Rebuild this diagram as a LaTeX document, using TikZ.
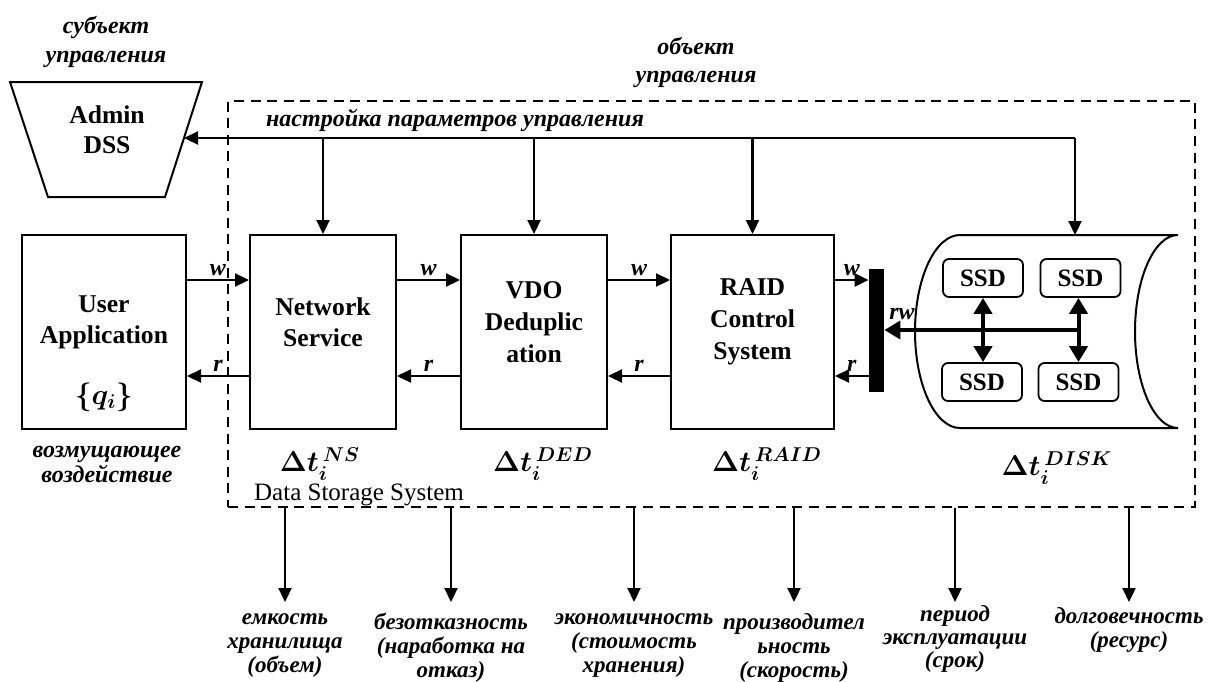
\documentclass[tikz,border=0pt]{standalone}
\usepackage{fontspec}
\setmainfont{Liberation Serif}
\usetikzlibrary{arrows.meta}
\begin{document}
\begin{tikzpicture}[x=0.5pt,y=-0.5pt,
  lw/.style={line width=1.1pt},
  arr/.style={line width=1.1pt,-{Triangle[length=7pt,width=6.5pt]}},
  thickarr/.style={line width=2pt,-{Triangle[length=8pt,width=9pt]}},
  dblarr/.style={line width=2pt,{Triangle[length=8pt,width=9pt]}-{Triangle[length=8pt,width=9pt]}},
  blk/.style={draw,line width=1pt,inner sep=0pt,minimum height=97pt},
  ssdbox/.style={draw,line width=0.9pt,rounded corners=3pt,minimum width=40pt,minimum height=19pt,inner sep=0pt,
    font=\fontsize{12.5}{14}\selectfont\bfseries},
  btxt/.style={font=\fontsize{12.8}{15.5}\selectfont\bfseries,align=center,inner sep=0pt},
  ltxt/.style={font=\fontsize{12}{12}\selectfont\bfseries\itshape,align=center,inner sep=1pt},
  otxt/.style={font=\fontsize{11.5}{12}\selectfont\bfseries\itshape,align=center,inner sep=1pt,anchor=north},
  wr/.style={font=\fontsize{12}{12}\selectfont\bfseries\itshape,inner sep=1.5pt},
  dtxt/.style={font=\fontsize{14}{16}\selectfont\boldmath,inner sep=0pt},
]
\useasboundingbox (0,0) rectangle (1214,681);

% object frame
\node[draw,dash pattern=on 5pt off 3.3pt,line width=1pt,minimum width=483.5pt,minimum height=203pt,inner sep=0pt]
  (dss) at (711.5,304) {};

% admin trapezoid
\draw[line width=1pt] (10,82) -- (202,82) -- (165,197) -- (48,197) -- cycle;
\node[btxt,font=\fontsize{12.8}{15}\selectfont\bfseries] (admin) at (107,130) {Admin\\DSS};
\coordinate (adminR) at (184,138);

% top labels
\node[ltxt,font=\fontsize{12}{14.5}\selectfont\bfseries\itshape] (subj) at (106,42) {субъект\\управления};
\node[ltxt,font=\fontsize{12}{14}\selectfont\bfseries\itshape] (obj) at (696,62) {объект\\управления};
\node[ltxt] (ctrl) at (455,120) {настройка параметров управления};

% blocks
\node[blk,minimum width=82pt] (ua) at (104,331.5) {};
\node[blk,minimum width=73pt] (ns) at (323,332) {};
\node[blk,minimum width=73pt] (vdo) at (534,332) {};
\node[blk,minimum width=81.5pt] (raid) at (752.5,332) {};
\node[btxt] (uat) at (104,322.5) {User\\Application};
\node[dtxt] (q) at (104,397) {$\{q_i\}$};
\node[btxt] (nst) at (323,322.5) {Network\\Service};
\node[btxt,font=\fontsize{12.8}{16}\selectfont\bfseries] (vdot) at (534,322) {VDO\\Deduplic\\ation};
\node[btxt,font=\fontsize{12.8}{16}\selectfont\bfseries] (raidt) at (752.5,322) {RAID\\Control\\System};

% bar
\node[fill=black,minimum width=7.5pt,minimum height=61.5pt,inner sep=0pt] (bar) at (876.5,330.5) {};

% cylinder
\draw[line width=1pt] (960,235) -- (1178,235)
  .. controls (1154.25,235) and (1135,278.2) .. (1135,331.5)
  .. controls (1135,384.8) and (1154.25,428) .. (1178,428) -- (960,428)
  .. controls (935.15,428) and (915,384.8) .. (915,331.5)
  .. controls (915,278.2) and (935.15,235) .. (960,235) -- cycle;
\coordinate (cylTop) at (1075,235);

% SSDs
\node[ssdbox] (s1) at (983,278) {SSD};
\node[ssdbox] (s2) at (1080.5,278) {SSD};
\node[ssdbox] (s3) at (982,382) {SSD};
\node[ssdbox] (s4) at (1078.5,382) {SSD};
\draw[dblarr] (s1.south) -- (s3.north -| s1.south);
\draw[dblarr] (s2.south -| s4.north) -- (s4.north);
\coordinate (rwS) at (1078,330);
\draw[thickarr] (rwS) -- (bar.east |- rwS);
\node[wr] (rwl) at (902,314) {rw};

% w / r flows
\coordinate (wy) at (0,280);
\coordinate (ry) at (0,376);
\draw[arr] (ua.east |- wy) -- node[wr,above] {w} (ns.west |- wy);
\draw[arr] (ns.east |- wy) -- node[wr,above] {w} (vdo.west |- wy);
\draw[arr] (vdo.east |- wy) -- node[wr,above] {w} (raid.west |- wy);
\draw[arr] (raid.east |- wy) -- node[wr,above] {w} (bar.west |- wy);
\draw[arr] (ns.west |- ry) -- node[wr,above] {r} (ua.east |- ry);
\draw[arr] (vdo.west |- ry) -- node[wr,above] {r} (ns.east |- ry);
\draw[arr] (raid.west |- ry) -- node[wr,above] {r} (vdo.east |- ry);
\draw[arr] (bar.west |- ry) -- node[wr,above] {r} (raid.east |- ry);

% control line
\coordinate (ctrlR) at (1075,138);
\draw[arr] (ctrlR) -- (adminR);
\draw[arr] (ns.north |- ctrlR) -- (ns.north);
\draw[arr] (vdo.north |- ctrlR) -- (vdo.north);
\draw[arr] (raid.north |- ctrlR) -- (raid.north);
\draw[arr] (ctrlR) -- (cylTop);

% delta labels
\node[dtxt] (dns) at (320,464) {$\Delta t_{i}^{\,NS}$};
\node[dtxt] (dded) at (543,464) {$\Delta t_{i}^{\,DED}$};
\node[dtxt] (draid) at (767,464) {$\Delta t_{i}^{\,RAID}$};
\node[dtxt] (ddisk) at (1057,468) {$\Delta t_{i}^{\,DISK}$};
\node[font=\fontsize{12.5}{14}\selectfont,inner sep=0pt] (dsst) at (359,495) {Data Storage System};

\node[ltxt,font=\fontsize{12}{12.5}\selectfont\bfseries\itshape] (dist) at (107,464.5) {возмущающее\\воздействие};

% bottom outputs
\node[otxt] (o1) at (285,611) {емкость\\хранилища\\(объем)};
\node[otxt] (o2) at (451,611) {безотказность\\(наработка на\\отказ)};
\node[otxt] (o3) at (634,611) {экономичность\\(стоимость\\хранения)};
\node[otxt] (o4) at (794,611) {производител\\ьность\\(скорость)};
\node[otxt,font=\fontsize{11.5}{11.5}\selectfont\bfseries\itshape] (o5) at (955,603) {период\\эксплуатации\\(срок)};
\node[otxt] (o6) at (1129,605) {долговечность\\(ресурс)};
\foreach \o/\s in {o1/4.5pt,o2/4.5pt,o3/4.5pt,o4/4.5pt,o5/0.5pt,o6/1.5pt}{
  \draw[arr,shorten >=\s] (dss.south -| \o.north) -- (\o.north);
}
\end{tikzpicture}
\end{document}
